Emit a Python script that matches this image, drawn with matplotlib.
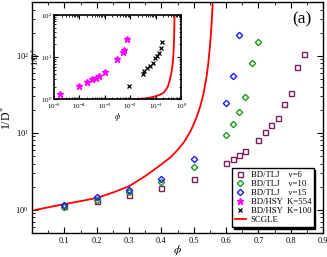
import matplotlib
matplotlib.use("Agg")
import matplotlib.pyplot as plt
import numpy as np
from matplotlib.lines import Line2D
from matplotlib.ticker import LogLocator, MultipleLocator, NullFormatter

plt.rcParams['font.family'] = ['Liberation Serif', 'DejaVu Serif']
plt.rcParams['mathtext.fontset'] = 'stix'

# ---- data ----
phi_nu6 = [0.1, 0.2, 0.3, 0.4, 0.5, 0.6, 0.62, 0.64, 0.66, 0.70, 0.72, 0.74, 0.76, 0.78, 0.80, 0.82, 0.84]
d_nu6 = [1.12, 1.29, 1.57, 1.93, 2.5, 4.07, 4.6, 5.2, 5.85, 8.1, 10.2, 12.7, 15.8, 23.5, 32.5, 72, 106]

phi_nu10 = [0.1, 0.2, 0.3, 0.4, 0.5, 0.6, 0.62, 0.64, 0.66, 0.68, 0.70]
d_nu10 = [1.08, 1.34, 1.72, 2.27, 3.6, 9.3, 12.9, 18.7, 29.5, 81, 151]

phi_nu15 = [0.1, 0.2, 0.3, 0.4, 0.5, 0.6, 0.62, 0.64]
d_nu15 = [1.17, 1.45, 1.82, 2.54, 4.55, 24.6, 55, 185]

phi_k554 = [1.8e-5, 1.0e-4, 2.0e-4, 3.2e-4, 4.4e-4, 5.9e-4, 1.0e-3, 2.9e-3, 5.0e-3, 5.7e-3, 7.7e-3]
d_k554 = [1.35, 2.05, 2.6, 3.0, 3.3, 3.66, 4.55, 9.1, 13.3, 14.8, 26.5]

phi_k100 = [0.0087, 0.031, 0.036, 0.047, 0.06, 0.077, 0.095, 0.117, 0.14, 0.167, 0.18]
d_k100 = [2.09, 3.95, 4.7, 5.5, 6.3, 7.2, 9.4, 10.9, 12.8, 16.3, 22.6]

phi_scgle = [1e-5, 1e-4, 1e-3, 0.01, 0.03, 0.05, 0.1, 0.15, 0.2, 0.25, 0.3, 0.35, 0.4, 0.43,
             0.45, 0.47, 0.49, 0.5, 0.51, 0.52, 0.53, 0.54, 0.545, 0.55, 0.553, 0.556, 0.56]
d_scgle = [1.0, 1.0, 1.0, 1.0, 1.04, 1.08, 1.19, 1.3, 1.43, 1.68, 2.03, 2.75, 3.9, 4.9,
           6.0, 7.6, 10.5, 13.0, 16.5, 22, 32, 55, 80, 130, 190, 300, 600]

x_ticks = [0.1, 0.2, 0.3, 0.4, 0.5, 0.6, 0.7, 0.8, 0.9]

c_purple = '#7a1f5c'
c_green = '#1f9a1f'
c_blue = '#1a1aff'
c_mag = '#ff00ff'
c_red = '#ff0000'

fig = plt.figure(figsize=(3.27, 2.57), dpi=100)
ax = fig.add_axes([0.098, 0.093, 0.89, 0.899])

phi_s = np.array(phi_scgle)
d_s = np.array(d_scgle)
m = phi_s >= 0.01
ax.plot(phi_s[m], d_s[m], color=c_red, lw=1.3, zorder=2)
ax.plot(phi_nu6, d_nu6, ls='none', marker='s', ms=3.6, mfc='none', mec=c_purple, mew=1.0, zorder=3)
ax.plot(phi_nu10, d_nu10, ls='none', marker='D', ms=3.2, mfc='none', mec=c_green, mew=1.0, zorder=3)
ax.plot(phi_nu15, d_nu15, ls='none', marker='D', ms=3.2, mfc='none', mec=c_blue, mew=1.0, zorder=4)

ax.set_yscale('log')
ax.set_xlim(0, 0.9)
ax.set_ylim(0.5, 500)
ax.set_xticks(x_ticks)
ax.set_xticklabels([f"{t:.1f}" for t in x_ticks])
ax.xaxis.set_minor_locator(MultipleLocator(0.05))
ax.yaxis.set_major_locator(LogLocator(base=10, numticks=10))
ax.yaxis.set_minor_locator(LogLocator(base=10, subs=np.arange(2, 10), numticks=20))
ax.yaxis.set_minor_formatter(NullFormatter())
ax.tick_params(which='both', direction='in', top=True, right=True, labelsize=6, pad=2.5)
ax.tick_params(which='major', length=4, width=0.8)
ax.tick_params(which='minor', length=2, width=0.6)
for s in ax.spines.values():
    s.set_linewidth(1.0)
ax.set_xlabel(r'$\phi$', fontsize=8.5, labelpad=0)
ax.set_ylabel(r'1/D$^*$', fontsize=8.5)
ax.yaxis.set_label_coords(-0.062, 0.5)
ax.xaxis.set_label_coords(0.5, -0.045)
ax.text(0.96, 0.96, '(a)', transform=ax.transAxes, ha='right', va='top', fontsize=12.5)

handles = [
    Line2D([], [], ls='none', marker='s', ms=3.6, mfc='none', mec=c_purple, mew=1.0),
    Line2D([], [], ls='none', marker='D', ms=3.2, mfc='none', mec=c_green, mew=1.0),
    Line2D([], [], ls='none', marker='D', ms=3.2, mfc='none', mec=c_blue, mew=1.0),
    Line2D([], [], ls='none', marker='*', ms=5, color=c_mag),
    Line2D([], [], ls='none', marker='x', ms=3.5, color='k', mew=0.9),
    Line2D([], [], color=c_red, lw=1.3),
]
labels = ['BD/TLJ    ν=6', 'BD/TLJ    ν=10', 'BD/TLJ    ν=15',
          'BD/HSY  K=554', 'BD/HSY  K=100', 'SCGLE']
leg = ax.legend(handles, labels, loc='lower right', bbox_to_anchor=(0.968, 0.027),
                fontsize=6.3, frameon=True, fancybox=False, edgecolor='k',
                handlelength=1.3, handletextpad=0.5, labelspacing=0.1,
                borderpad=0.3, borderaxespad=0.0,
                shadow={'color': 'k', 'alpha': 1.0, 'ox': 1.2, 'oy': -1.2})
leg.get_frame().set_linewidth(1.0)

# ---- inset ----
ins = fig.add_axes([0.165, 0.613, 0.389, 0.329])
ins.plot(phi_scgle, d_scgle, color=c_red, lw=1.3, zorder=2)
ins.plot(phi_k554, d_k554, ls='none', marker='*', ms=5, color=c_mag, zorder=3)
ins.plot(phi_k100, d_k100, ls='none', marker='x', ms=3.5, color='k', mew=0.9, zorder=3)
ins.set_xscale('log')
ins.set_yscale('log')
ins.set_xlim(1e-5, 1)
ins.set_ylim(1, 100)
ins.xaxis.set_major_locator(LogLocator(base=10, numticks=10))
ins.xaxis.set_minor_locator(LogLocator(base=10, subs=np.arange(2, 10), numticks=30))
ins.yaxis.set_minor_locator(LogLocator(base=10, subs=np.arange(2, 10), numticks=30))
ins.xaxis.set_minor_formatter(NullFormatter())
ins.yaxis.set_minor_formatter(NullFormatter())
ins.tick_params(which='both', direction='in', top=True, right=True, labelsize=5, pad=1.5)
ins.tick_params(which='major', length=3, width=0.8)
ins.tick_params(which='minor', length=1.5, width=0.6)
for s in ins.spines.values():
    s.set_linewidth(1.2)
ins.set_xlabel(r'$\phi$', fontsize=6, labelpad=0)
ins.set_ylabel(r'1/D$^*$', fontsize=6, labelpad=0)

fig.savefig('out.png', dpi=100)
